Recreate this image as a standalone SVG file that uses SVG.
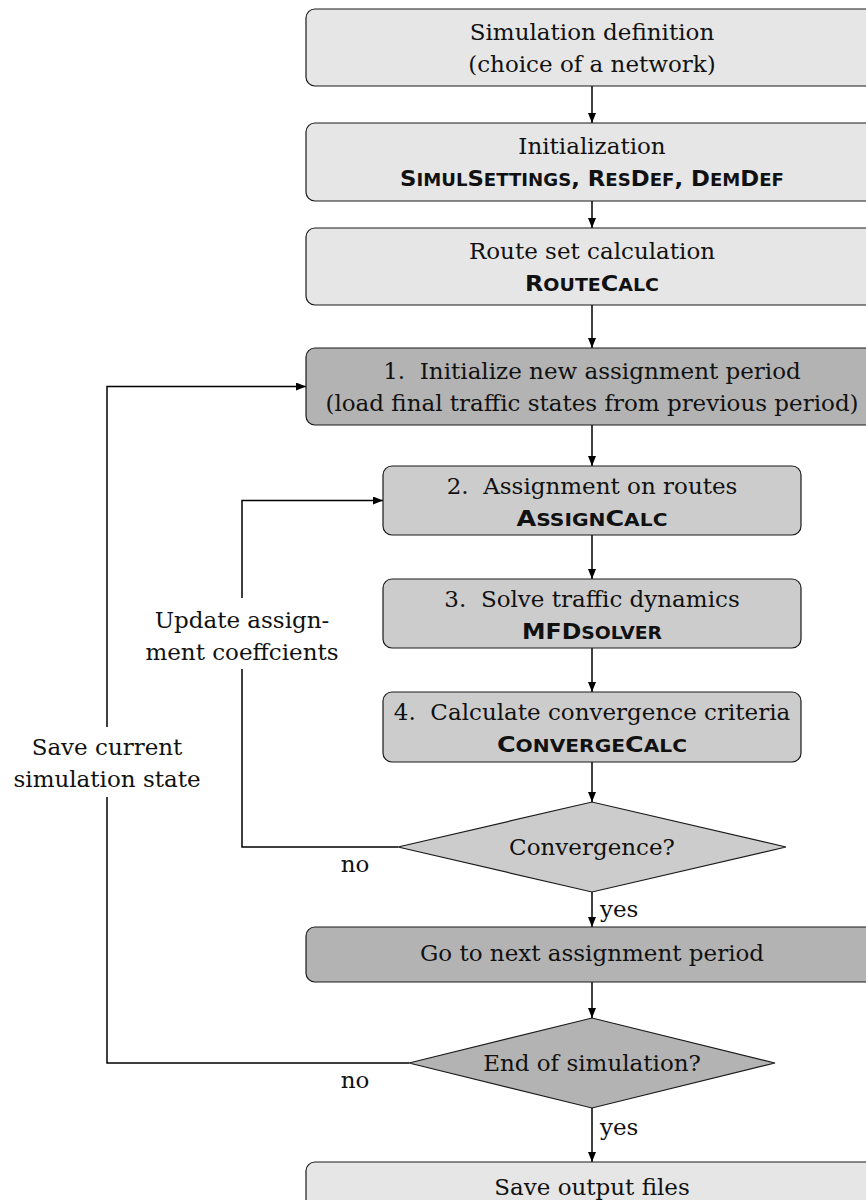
<svg xmlns="http://www.w3.org/2000/svg" width="866" height="1200" viewBox="0 0 866 1200">
<style>
.box{stroke:#1a1a1a;stroke-width:1.2}
.l1{fill:#e6e6e6}.l2{fill:#cccccc}.l3{fill:#b3b3b3}
.t{font-family:"DejaVu Serif",serif;font-size:23px;fill:#111;text-anchor:middle}
.ts{font-family:"DejaVu Serif",serif;font-size:23px;fill:#111;text-anchor:start}
.b{font-family:"DejaVu Sans",sans-serif;font-weight:bold;font-size:22px;fill:#111;text-anchor:middle}
.s{font-size:17.5px}
.c{fill:none;stroke:#000;stroke-width:1.5}
</style>
<defs>
<marker id="ah" viewBox="0 0 10 8" refX="10" refY="4" markerWidth="10" markerHeight="8" markerUnits="userSpaceOnUse" orient="auto">
<path d="M0,0 L10,4 L0,8 z" fill="#000"/>
</marker>
</defs>
<g id="connectors">
<path class="c" d="M592,86 V123" marker-end="url(#ah)"/>
<path class="c" d="M592,201 V228" marker-end="url(#ah)"/>
<path class="c" d="M592,305 V348" marker-end="url(#ah)"/>
<path class="c" d="M592,425 V466" marker-end="url(#ah)"/>
<path class="c" d="M592,535 V579" marker-end="url(#ah)"/>
<path class="c" d="M592,648 V692" marker-end="url(#ah)"/>
<path class="c" d="M592,762 V802" marker-end="url(#ah)"/>
<path class="c" d="M592,892 V927" marker-end="url(#ah)"/>
<path class="c" d="M592,982 V1018" marker-end="url(#ah)"/>
<path class="c" d="M592,1108 V1162" marker-end="url(#ah)"/>
<path class="c" d="M398,847 H242 V669"/>
<path class="c" d="M242,598 V500.5 H383" marker-end="url(#ah)"/>
<path class="c" d="M409,1063 H107 V797"/>
<path class="c" d="M107,727 V386.5 H306" marker-end="url(#ah)"/>
<text class="t" x="355" y="872">no</text>
<text class="t" x="355" y="1088">no</text>
<text class="ts" x="600" y="917">yes</text>
<text class="ts" x="600" y="1135">yes</text>
<text class="t" x="242" y="628">Update assign-</text>
<text class="t" x="242" y="660">ment coeffcients</text>
<text class="t" x="107" y="755">Save current</text>
<text class="t" x="107" y="787">simulation state</text>
</g>
<g id="n1">
<rect class="box l1" x="306" y="9" width="572" height="77" rx="9"/>
<text class="t" x="592" y="40">Simulation definition</text>
<text class="t" x="592" y="72">(choice of a network)</text>
</g>
<g id="n2">
<rect class="box l1" x="306" y="123" width="572" height="78" rx="9"/>
<text class="t" x="592" y="154">Initialization</text>
<text class="b" x="592" y="186" textLength="384" lengthAdjust="spacingAndGlyphs">S<tspan class="s">IMUL</tspan>S<tspan class="s">ETTINGS</tspan>, R<tspan class="s">ES</tspan>D<tspan class="s">EF</tspan>, D<tspan class="s">EM</tspan>D<tspan class="s">EF</tspan></text>
</g>
<g id="n3">
<rect class="box l1" x="306" y="228" width="572" height="77" rx="9"/>
<text class="t" x="592" y="259">Route set calculation</text>
<text class="b" x="592" y="291" textLength="134" lengthAdjust="spacingAndGlyphs">R<tspan class="s">OUTE</tspan>C<tspan class="s">ALC</tspan></text>
</g>
<g id="n4">
<rect class="box l3" x="306" y="348" width="572" height="77" rx="9"/>
<text class="t" x="592" y="379">1.&#160; Initialize new assignment period</text>
<text class="t" x="592" y="411">(load final traffic states from previous period)</text>
</g>
<g id="n5">
<rect class="box l2" x="383" y="466" width="418" height="69" rx="9"/>
<text class="t" x="592" y="494">2.&#160; Assignment on routes</text>
<text class="b" x="592" y="526" textLength="151" lengthAdjust="spacingAndGlyphs">A<tspan class="s">SSIGN</tspan>C<tspan class="s">ALC</tspan></text>
</g>
<g id="n6">
<rect class="box l2" x="383" y="579" width="418" height="69" rx="9"/>
<text class="t" x="592" y="607">3.&#160; Solve traffic dynamics</text>
<text class="b" x="592" y="639" textLength="140" lengthAdjust="spacingAndGlyphs">MFD<tspan class="s">SOLVER</tspan></text>
</g>
<g id="n7">
<rect class="box l2" x="383" y="692" width="418" height="70" rx="9"/>
<text class="t" x="592" y="720">4.&#160; Calculate convergence criteria</text>
<text class="b" x="592" y="752" textLength="190" lengthAdjust="spacingAndGlyphs">C<tspan class="s">ONVERGE</tspan>C<tspan class="s">ALC</tspan></text>
</g>
<g id="d1">
<polygon class="box l2" points="398,847 592,802 786,847 592,892"/>
<text class="t" x="592" y="855">Convergence?</text>
</g>
<g id="n8">
<rect class="box l3" x="306" y="927" width="572" height="55" rx="9"/>
<text class="t" x="592" y="961">Go to next assignment period</text>
</g>
<g id="d2">
<polygon class="box l3" points="409,1063 592,1018 775,1063 592,1108"/>
<text class="t" x="592" y="1071">End of simulation?</text>
</g>
<g id="n9">
<rect class="box l1" x="306" y="1162" width="572" height="60" rx="9"/>
<text class="t" x="592" y="1195">Save output files</text>
</g>
</svg>
